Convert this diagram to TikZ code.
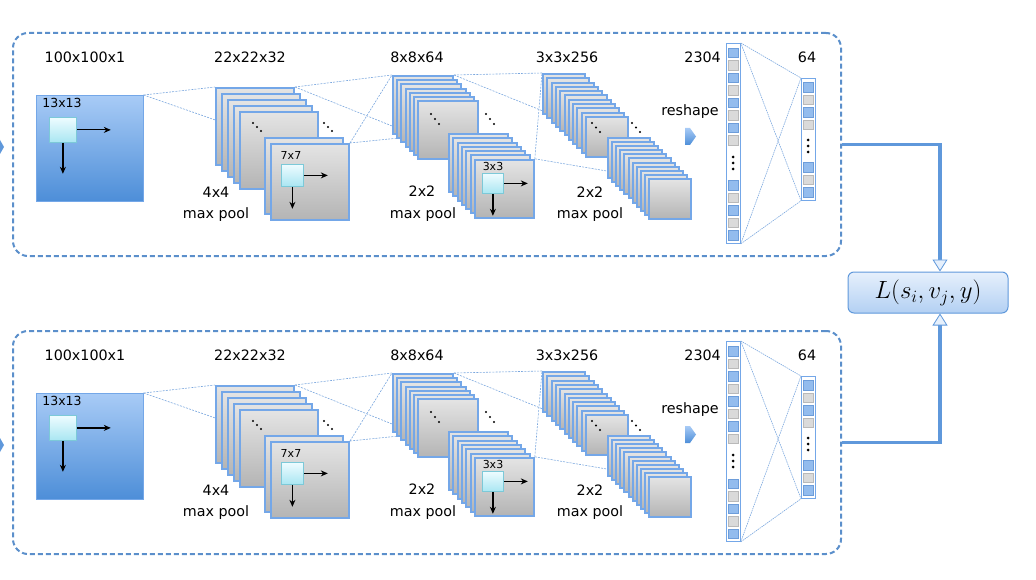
\documentclass[tikz,border=0pt]{standalone}
\usepackage{amsmath,amssymb}
\usepackage{fontspec}
\setmainfont{DejaVu Sans}
\usetikzlibrary{arrows.meta,backgrounds}

\definecolor{panelblue}{HTML}{5B8FCB}
\definecolor{projblue}{HTML}{7BA7DE}
\definecolor{cardblue}{HTML}{74A7E8}
\definecolor{cardtop}{HTML}{E4E4E4}
\definecolor{cardbot}{HTML}{B4B4B4}
\definecolor{intop}{HTML}{A8CBF6}
\definecolor{inbot}{HTML}{4D8ED8}
\definecolor{kertop}{HTML}{EEFCFF}
\definecolor{kerbot}{HTML}{A9E6F2}
\definecolor{keredge}{HTML}{7CC9D8}
\definecolor{cellblue}{HTML}{93BCEE}
\definecolor{celledge}{HTML}{6D9DDA}
\definecolor{cellgray}{HTML}{DADADA}
\definecolor{linkblue}{HTML}{5F98DB}
\definecolor{losstop}{HTML}{E6F0FC}
\definecolor{lossbot}{HTML}{B3D0F3}

\tikzset{
  panel/.style={draw=panelblue, line width=2pt, dash pattern=on 5pt off 3pt,
    rounded corners=15pt, anchor=north west, inner sep=0pt},
  card/.style={draw=cardblue, line width=2pt, top color=cardtop, bottom color=cardbot,
    anchor=north west, inner sep=0pt},
  inbox/.style={draw=cardblue, line width=0.6pt, top color=intop, bottom color=inbot,
    anchor=north west, inner sep=0pt},
  kernel/.style={draw=keredge, line width=0.8pt, top color=kertop, bottom color=kerbot,
    anchor=north west, inner sep=0pt},
  column/.style={draw=cardblue, line width=0.8pt, fill=white, anchor=north west, inner sep=0pt},
  bcell/.style={draw=celledge, line width=0.5pt, fill=cellblue, minimum size=9.5pt, inner sep=0pt},
  gcell/.style={draw=gray!55, line width=0.5pt, fill=cellgray, minimum size=9.5pt, inner sep=0pt},
  dimlbl/.style={font=\fontsize{14.3}{17}\selectfont, inner sep=0pt},
  small/.style={font=\fontsize{11}{13}\selectfont, inner sep=0pt},
  proj/.style={draw=projblue, line width=0.6pt, dash pattern=on 2pt off 1.2pt},
  arr/.style={-{Stealth[length=7pt,width=6pt]}, line width=1.2pt},
  link/.style={draw=linkblue, line width=3.5pt,
    -{Triangle[width=15pt,length=12pt,fill=losstop,line width=0.8pt]}},
  lossbox/.style={draw=linkblue, line width=1pt, rounded corners=6pt,
    top color=losstop, bottom color=lossbot}
}

\begin{document}
\begin{tikzpicture}[x=1pt,y=-1pt]
\useasboundingbox (0,0) rectangle (1036,580);

\foreach \k/\dy in {1/0,2/298}{
\begin{scope}[shift={(0,\dy)}]
  \node[panel, minimum width=828pt, minimum height=223pt] (panel\k) at (12,32) {};
  \fill[linkblue] (0,140) -- (4,147) -- (0,154) -- cycle;

  % layer sizes
  \node[dimlbl] (s0\k) at (85,57) {100x100x1};
  \node[dimlbl] (s1\k) at (250,57) {22x22x32};
  \node[dimlbl] (s2\k) at (417,57) {8x8x64};
  \node[dimlbl] (s3\k) at (567,57) {3x3x256};
  \node[dimlbl, anchor=east] (s4\k) at (721,57) {2304};
  \node[dimlbl] (s5\k) at (807,57) {64};

  % input image
  \node[inbox, minimum width=107pt, minimum height=106pt] (inp\k) at (36,95) {};
  \node[small, font=\fontsize{12.5}{14}\selectfont] (f1\k) at (62,103) {13x13};
  \node[kernel, minimum width=27pt, minimum height=25pt] (k1\k) at (49,117) {};
  \draw[arr] (k1\k.east) -- ++(34,0);
  \draw[arr] (k1\k.south) -- ++(0,31);

  % first conv layer
  \foreach \i in {0,...,4}
    \node[card, minimum width=78pt, minimum height=77pt] (a\i-\k) at (215+6*\i,87+6*\i) {};
  \foreach \i in {0,1}
    \node[card, minimum width=78pt, minimum height=76pt] (b\i-\k) at (264+6*\i,137+6*\i) {};
  \foreach \i in {0,1,2} {
    \fill (253+4*\i,123+4*\i) circle (1.2pt);
    \fill (324+4*\i,123+4*\i) circle (1.2pt);
  }
  \node[small] (f2\k) at (291,155) {7x7};
  \node[kernel, minimum width=22pt, minimum height=22pt] (k2\k) at (281,164) {};
  \draw[arr] (k2\k.east) -- ++(24,0);
  \draw[arr] (k2\k.south) -- ++(0,22);
  \node[dimlbl] (p1\k) at (216,192) {4x4};
  \node[dimlbl] (q1\k) at (216,215) {max pool};

  % second conv layer
  \foreach \i in {0,...,6}
    \node[card, minimum width=60pt, minimum height=58pt] (c\i-\k) at (392+4.2*\i,75+4.2*\i) {};
  \foreach \i in {0,...,6}
    \node[card, minimum width=59pt, minimum height=58pt] (d\i-\k) at (448+4.3*\i,133+4.3*\i) {};
  \foreach \i in {0,1,2} {
    \fill (431+4*\i,114+5*\i) circle (1.2pt);
    \fill (486+4*\i,114+5*\i) circle (1.2pt);
  }
  \node[small] (f3\k) at (493,166) {3x3};
  \node[kernel, minimum width=21pt, minimum height=20pt] (k3\k) at (482,173) {};
  \draw[arr] (k3\k.east) -- ++(24,0);
  \draw[arr] (k3\k.south) -- ++(0,22);
  \node[dimlbl] (p2\k) at (422,191) {2x2};
  \node[dimlbl] (q2\k) at (423,215) {max pool};

  % third conv layer
  \foreach \i in {0,...,10}
    \node[card, minimum width=42pt, minimum height=40pt] (e\i-\k) at (542+4.3*\i,73+4.3*\i) {};
  \foreach \i in {0,...,10}
    \node[card, minimum width=42pt, minimum height=40pt] (g\i-\k) at (607+4.1*\i,137+4.1*\i) {};
  \foreach \i in {0,1,2} {
    \fill (592+4*\i,123+4.5*\i) circle (1.2pt);
    \fill (632+4*\i,123+4.5*\i) circle (1.2pt);
  }
  \node[dimlbl] (p3\k) at (590,192) {2x2};
  \node[dimlbl] (q3\k) at (590,215) {max pool};

  % reshape
  \node[dimlbl] (r\k) at (690,112) {reshape};
  \shade[top color=intop, bottom color=inbot] (685,128) -- (690,128) -- (696,136.5)
    -- (690,145) -- (685,145) -- cycle;

  % flat vector and fully connected
  \node[column, minimum width=14pt, minimum height=200pt] (vec\k) at (726,43) {};
  \foreach \y/\c [count=\n] in {53/bcell,65.5/gcell,78/bcell,90.5/gcell,103/bcell,
      115.5/gcell,128/bcell,140.5/gcell,185.5/bcell,198/gcell,210.5/bcell,223/gcell,235.5/bcell}
    \node[\c] (v\n-\k) at (733,\y) {};
  \node[column, minimum width=14pt, minimum height=122pt] (fc\k) at (801,78) {};
  \foreach \y/\c [count=\n] in {87.4/bcell,99.8/gcell,112.2/bcell,124.6/gcell,
      167.4/bcell,179.8/gcell,192.2/bcell}
    \node[\c] (w\n-\k) at (808,\y) {};
  \foreach \i in {0,1,2} {
    \fill (733,157+6*\i) circle (1.5pt);
    \fill (808,140+6*\i) circle (1.5pt);
  }

  \begin{pgfonlayer}{background}
    \draw[proj] (inp\k.north east) -- (a0-\k.north west);
    \draw[proj] (inp\k.north east) -- (b0-\k.north west);
    \draw[proj] (a0-\k.north east) -- (c0-\k.north west);
    \draw[proj] (a0-\k.north east) -- (d6-\k.north west);
    \draw[proj] (b1-\k.north east) -- (c0-\k.north west);
    \draw[proj] (b1-\k.north east) -- (d0-\k.north west);
    \draw[proj] (c0-\k.north east) -- (e0-\k.north west);
    \draw[proj] (c0-\k.north east) -- (g0-\k.north west);
    \draw[proj] (d6-\k.north east) -- (e0-\k.north west);
    \draw[proj] (d6-\k.north east) -- (g10-\k.north west);
  \end{pgfonlayer}
  \draw[proj, dash pattern=on 1.5pt off 0.8pt] (vec\k.north east) -- (fc\k.north west);
  \draw[proj, dash pattern=on 1.5pt off 0.8pt] (vec\k.north east) -- (fc\k.south west);
  \draw[proj, dash pattern=on 1.5pt off 0.8pt] (vec\k.south east) -- (fc\k.north west);
  \draw[proj, dash pattern=on 1.5pt off 0.8pt] (vec\k.south east) -- (fc\k.south west);
\end{scope}
}

% loss
\node[lossbox, minimum width=160pt, minimum height=41pt, font=\fontsize{27}{30}\selectfont]
  (loss) at (928,292.5) {$L(s_i, v_j, y)$};
\draw[link] (panel1.east) -| ([xshift=12pt]loss.north);
\draw[link] (panel2.east) -| ([xshift=12pt]loss.south);
\end{tikzpicture}
\end{document}
